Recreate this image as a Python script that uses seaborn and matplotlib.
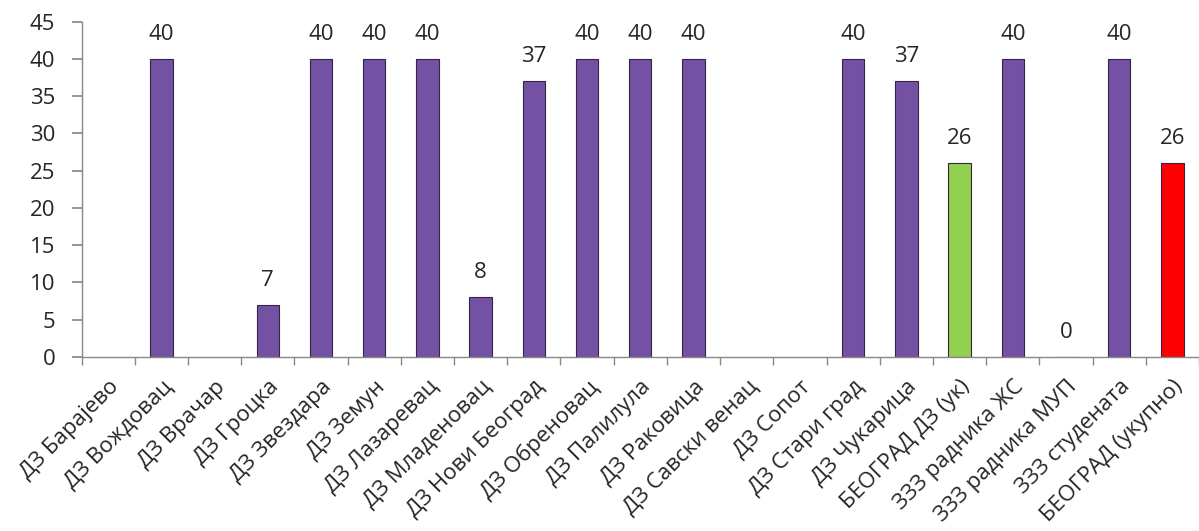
import numpy as np
import pandas as pd
import seaborn as sns
import matplotlib.pyplot as plt

# categories and values (nan = no bar, no label)
categories = ['ДЗ Барајево', 'ДЗ Вождовац', 'ДЗ Врачар', 'ДЗ Гроцка', 'ДЗ Звездара',
              'ДЗ Земун', 'ДЗ Лазаревац', 'ДЗ Младеновац', 'ДЗ Нови Београд',
              'ДЗ Обреновац', 'ДЗ Палилула', 'ДЗ Раковица', 'ДЗ Савски венац',
              'ДЗ Сопот', 'ДЗ Стари град', 'ДЗ Чукарица', 'БЕОГРАД ДЗ (ук)',
              'ЗЗЗ радника ЖС', 'ЗЗЗ радника МУП', 'ЗЗЗ студената', 'БЕОГРАД (укупно)']
values = [np.nan, 40, np.nan, 7, 40, 40, 40, 8, 37, 40, 40, 40, np.nan, np.nan,
          40, 37, 26, 40, 0, 40, 26]
bar_colors = ['#7452a3'] * 16 + ['#92d050', '#7452a3', '#7452a3', '#7452a3', '#ff0000']

sns.set_theme(style='white')
plt.rcParams['font.family'] = ['Open Sans', 'DejaVu Sans']

df = pd.DataFrame({'cat': categories, 'val': values})

fig = plt.figure(figsize=(11.99, 5.31), dpi=100)
ax = fig.add_axes([0.068, 0.328, 0.932, 0.631])

sns.barplot(data=df, x='cat', y='val', hue='cat', palette=bar_colors, legend=False,
            width=0.42, edgecolor='#33254a', linewidth=0.8, ax=ax, saturation=1)

for i, v in enumerate(values):
    if not np.isnan(v):
        ax.text(i, v + 1.9, f'{int(v)}', ha='center', va='bottom', fontsize=16)

ax.set_xlim(-0.5, len(categories) - 0.5)
ax.set_ylim(0, 45)
ax.set_yticks(range(0, 50, 5))
ax.set_xlabel('')
ax.set_ylabel('')

ax.set_xticks(range(len(categories)))
ax.set_xticklabels(categories, rotation=45, ha='right', rotation_mode='anchor', fontsize=16)
ax.set_xticks(np.arange(-0.5, len(categories), 1), minor=True)
ax.tick_params(axis='x', which='major', length=0, pad=14)
ax.tick_params(axis='x', which='minor', length=6, color='#888888', direction='out', bottom=True)
ax.tick_params(axis='y', length=7, color='#888888', direction='out', left=True,
               labelsize=16, pad=12)

for s in ['top', 'right']:
    ax.spines[s].set_visible(False)
for s in ['left', 'bottom']:
    ax.spines[s].set_color('#888888')
    ax.spines[s].set_linewidth(1)

fig.savefig('out.png', dpi=100)
